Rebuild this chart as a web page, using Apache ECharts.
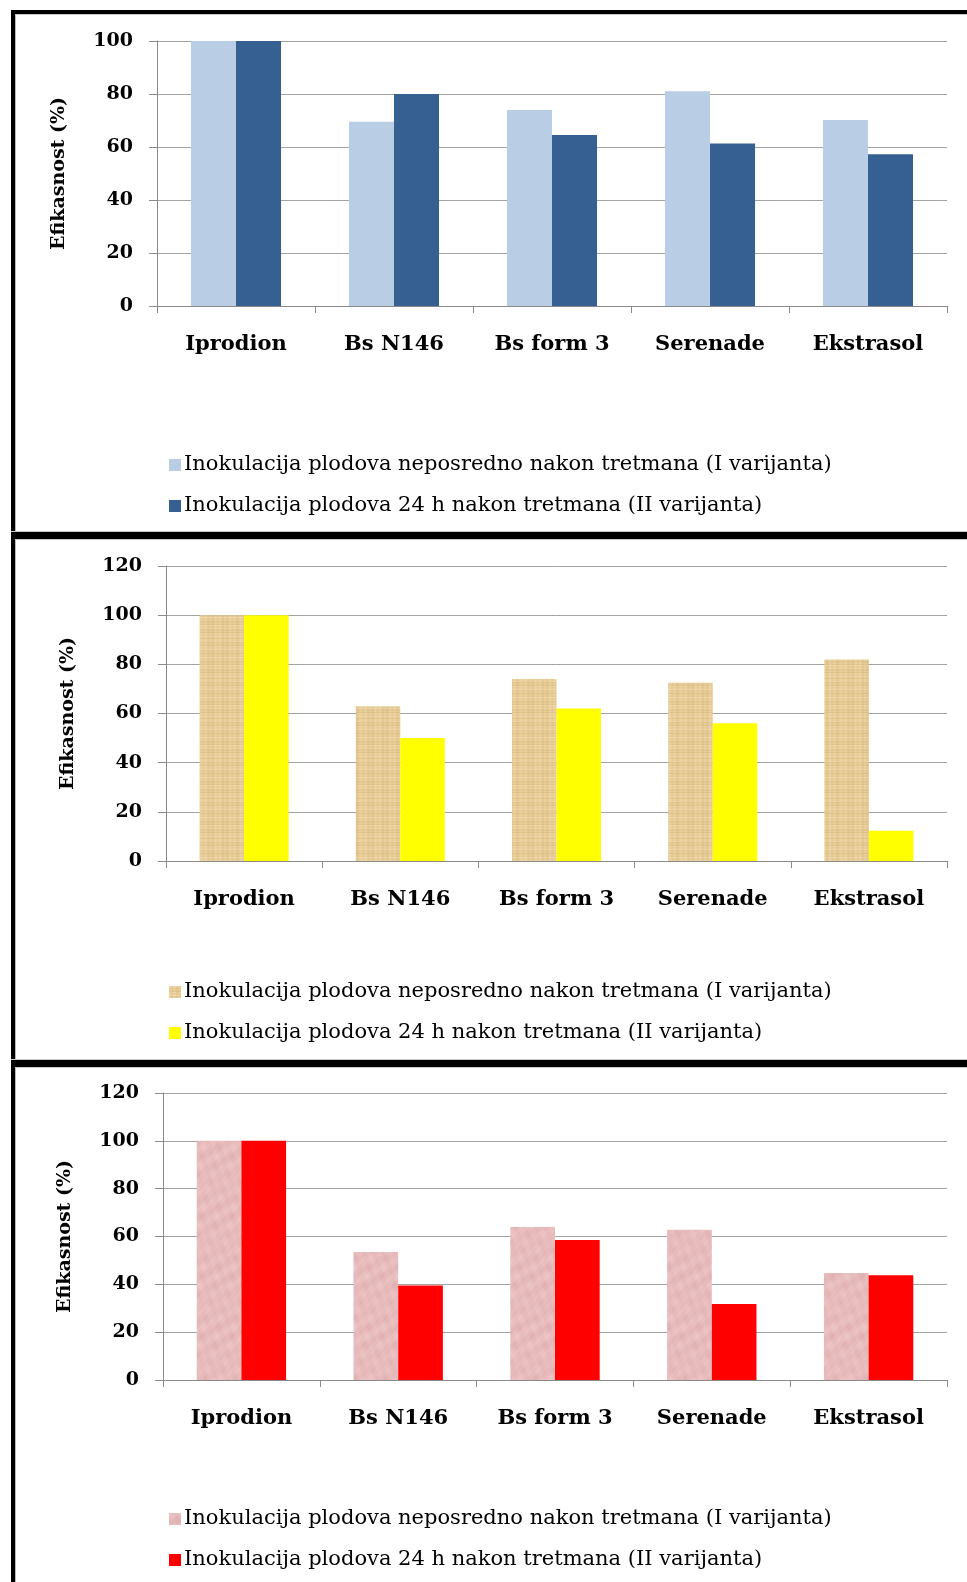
<!DOCTYPE html>
<html>
<head>
<meta charset="utf-8">
<script src="https://cdn.jsdelivr.net/npm/echarts@6/dist/echarts.min.js"></script>
<style>
html,body{margin:0;padding:0;background:#fff;}
.c{position:absolute;left:0;top:0;width:967px;height:1582px;}
</style>
</head>
<body>
<div id="a" class="c"></div>
<div id="b" class="c"></div>
<div id="d" class="c"></div>
<script>
const categories = ['Iprodion', 'Bs N146', 'Bs form 3', 'Serenade', 'Ekstrasol'];
const seriesNames = ['Inokulacija plodova neposredno nakon tretmana (I varijanta)', 'Inokulacija plodova 24 h nakon tretmana (II varijanta)'];
const yTitle = 'Efikasnost (%)';
const chartA_var1 = [100, 69.5, 74, 81, 70.2];
const chartA_var2 = [100, 80, 64.5, 61.3, 57.3];
const chartB_var1 = [100, 63, 74, 72.5, 82];
const chartB_var2 = [100, 50, 62, 56, 12.3];
const chartC_var1 = [100, 53.5, 64, 62.8, 44.7];
const chartC_var2 = [100, 39.5, 58.5, 31.8, 43.8];
const yMaxA = 100, yMaxB = 120, yMaxC = 120;
const yStep = 20;

function papyrus() {
  const c = document.createElement('canvas'); c.width = 40; c.height = 40;
  const g = c.getContext('2d');
  const img = g.createImageData(40, 40);
  for (let y = 0; y < 40; y++) for (let x = 0; x < 40; x++) {
    const row = 0.5 * Math.sin(y * 2.3) + 0.3 * Math.sin(y * 0.7 + 2);
    const col = 0.35 * Math.sin(x * 1.3 + 1) + 0.2 * Math.sin(x * 0.45);
    const v = row + col + 0.15 * Math.sin((x * 3 + y * 7) * 0.37);
    const i = (y * 40 + x) * 4;
    img.data[i] = 230 + v * 9;
    img.data[i + 1] = 203 + v * 13;
    img.data[i + 2] = 150 + v * 20;
    img.data[i + 3] = 255;
  }
  g.putImageData(img, 0, 0);
  return c;
}
function pinkTex() {
  const c = document.createElement('canvas'); c.width = 60; c.height = 60;
  const g = c.getContext('2d');
  const img = g.createImageData(60, 60);
  const t = Math.PI * 2 / 60;
  for (let y = 0; y < 60; y++) for (let x = 0; x < 60; x++) {
    const v = 0.35 * Math.sin(x * t * 2 + 0.3) * Math.cos(y * t * 3 + 1.1) + 0.3 * Math.sin((x + 2 * y) * t * 2)
      + 0.25 * Math.sin((3 * x - y) * t * 2 + 0.7) + 0.15 * Math.sin((x * 5 + y * 4) * t * 2);
    const i = (y * 60 + x) * 4;
    img.data[i] = 231 + v * 7;
    img.data[i + 1] = 187 + v * 12;
    img.data[i + 2] = 188 + v * 12;
    img.data[i + 3] = 255;
  }
  g.putImageData(img, 0, 0);
  return c;
}

const serifB = 'DejaVu Serif';
function makeOption(p) {
  return {
    animation: false,
    backgroundColor: 'transparent',
    grid: { left: p.left, top: p.top, width: 947 - p.left, height: p.bottom - p.top, containLabel: false },
    legend: {
      orient: 'vertical', left: 169, top: p.legendTop, itemGap: 19, padding: 0,
      itemWidth: 12, itemHeight: 12, icon: 'rect',
      textStyle: { fontFamily: serifB, fontSize: 21, lineHeight: 22, color: '#000', padding: [0, 0, 0, -2] },
      data: seriesNames
    },
    xAxis: {
      type: 'category', data: categories,
      axisLine: { lineStyle: { color: '#8a8a8a', width: 1 } },
      axisTick: { show: true, length: 7, lineStyle: { color: '#8a8a8a' } },
      axisLabel: { fontFamily: serifB, fontWeight: 'bold', fontSize: 21, color: '#000', margin: 28 },
      splitLine: { show: false }
    },
    yAxis: {
      type: 'value', min: 0, max: p.yMax, interval: yStep,
      axisLine: { show: true, lineStyle: { color: '#8a8a8a', width: 1 } },
      axisTick: { show: true, length: 8, lineStyle: { color: '#8a8a8a' } },
      axisLabel: { fontFamily: serifB, fontWeight: 'bold', fontSize: 19, color: '#000', margin: 24 },
      splitLine: { lineStyle: { color: '#a3a3a3', width: 1 } }
    },
    graphic: (p.extra || []).concat([{
      type: 'text', x: p.titleX, y: (p.top + p.bottom) / 2, rotation: Math.PI / 2,
      style: { text: yTitle, fontFamily: serifB, fontWeight: 'bold', fontSize: 19, fill: '#000', align: 'center', verticalAlign: 'middle' }
    }]),
    series: [
      { name: seriesNames[0], type: 'bar', data: p.d1, barGap: '0%', barCategoryGap: '43%', itemStyle: { color: p.c1 } },
      { name: seriesNames[1], type: 'bar', data: p.d2, barGap: '0%', barCategoryGap: '43%', itemStyle: { color: p.c2 } }
    ]
  };
}

const borders = [
  { type: 'rect', shape: { x: 11, y: 10, width: 4, height: 1572 }, style: { fill: '#000' } },
  { type: 'rect', shape: { x: 15, y: 14, width: 1, height: 1568 }, style: { fill: '#bdbdbd' } },
  { type: 'rect', shape: { x: 11, y: 10, width: 956, height: 4 }, style: { fill: '#000' } },
  { type: 'rect', shape: { x: 15, y: 14, width: 952, height: 1 }, style: { fill: '#c8c8c8' } },
  { type: 'rect', shape: { x: 11, y: 531, width: 956, height: 1 }, style: { fill: '#c8c8c8' } },
  { type: 'rect', shape: { x: 11, y: 532, width: 956, height: 7 }, style: { fill: '#000' } },
  { type: 'rect', shape: { x: 15, y: 539, width: 952, height: 1 }, style: { fill: '#c8c8c8' } },
  { type: 'rect', shape: { x: 11, y: 1059, width: 956, height: 1 }, style: { fill: '#c8c8c8' } },
  { type: 'rect', shape: { x: 11, y: 1060, width: 956, height: 7 }, style: { fill: '#000' } },
  { type: 'rect', shape: { x: 15, y: 1067, width: 952, height: 1 }, style: { fill: '#c8c8c8' } }
];

const pap = { image: papyrus(), repeat: 'repeat' };
const pnk = { image: pinkTex(), repeat: 'repeat' };

echarts.init(document.getElementById('a'), null, { renderer: 'canvas' }).setOption(makeOption({
  left: 157, top: 41, bottom: 306, yMax: yMaxA, legendTop: 454, titleX: 59,
  d1: chartA_var1, d2: chartA_var2, c1: '#b9cde5', c2: '#376092', extra: borders
}));
echarts.init(document.getElementById('b'), null, { renderer: 'canvas' }).setOption(makeOption({
  left: 166, top: 566, bottom: 861, yMax: yMaxB, legendTop: 981, titleX: 68,
  d1: chartB_var1, d2: chartB_var2, c1: pap, c2: '#ffff00'
}));
echarts.init(document.getElementById('d'), null, { renderer: 'canvas' }).setOption(makeOption({
  left: 163, top: 1093, bottom: 1380, yMax: yMaxC, legendTop: 1508, titleX: 65,
  d1: chartC_var1, d2: chartC_var2, c1: pnk, c2: '#ff0000'
}));
</script>
</body>
</html>
